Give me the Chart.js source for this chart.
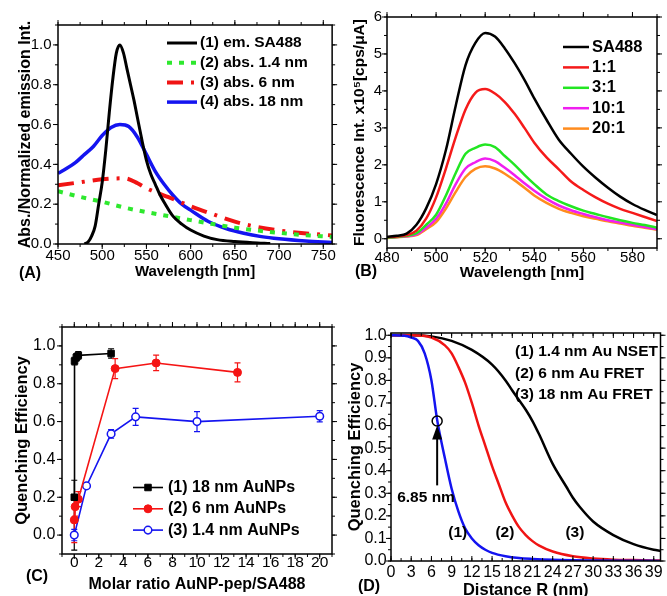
<!DOCTYPE html>
<html>
<head>
<meta charset="utf-8">
<script src="https://cdn.jsdelivr.net/npm/chart.js@4.4.1/dist/chart.umd.min.js"></script>
<style>
  html, body { margin: 0; padding: 0; background: #fff; overflow: hidden; }
  body { width: 667px; height: 596px; position: relative; }
  canvas { position: absolute; }
</style>
</head>
<body>
<canvas id="panelA" width="340" height="290" style="left:0px;top:0px"></canvas>
<canvas id="panelB" width="327" height="290" style="left:340px;top:0px"></canvas>
<canvas id="panelC" width="340" height="301" style="left:0px;top:295px"></canvas>
<canvas id="panelD" width="327" height="312" style="left:340px;top:295px"></canvas>
<script>
const FONT = '"Liberation Sans", Arial, sans-serif'

// (A) normalized emission / absorption
const waveEm = [480, 484, 488, 492, 496, 500, 504, 508, 512, 516, 520, 524, 528, 532, 536, 540, 545, 550, 555, 560, 565, 570, 580, 590, 600, 615, 630, 650, 670, 690]
const emSA488 = [0, 0.01, 0.04, 0.09, 0.2, 0.31, 0.47, 0.66, 0.83, 0.96, 1.0, 0.96, 0.88, 0.8, 0.72, 0.63, 0.52, 0.42, 0.35, 0.3, 0.25, 0.21, 0.14, 0.1, 0.07, 0.04, 0.022, 0.012, 0.006, 0.002]
const waveAbs14 = [450, 475, 500, 525, 550, 575, 600, 625, 650, 675, 700, 725, 760]
const abs14 = [0.265, 0.237, 0.212, 0.183, 0.16, 0.14, 0.12, 0.1, 0.082, 0.068, 0.056, 0.046, 0.036]
const waveAbs6 = [450, 475, 500, 525, 540, 550, 575, 600, 625, 650, 675, 700, 725, 760]
const abs6 = [0.295, 0.31, 0.325, 0.33, 0.305, 0.28, 0.235, 0.19, 0.15, 0.112, 0.086, 0.068, 0.055, 0.043]
const waveAbs18 = [450, 460, 470, 480, 490, 500, 510, 520, 530, 540, 550, 560, 570, 580, 590, 600, 620, 640, 660, 680, 700, 730, 760]
const abs18 = [0.355, 0.38, 0.41, 0.45, 0.49, 0.545, 0.585, 0.6, 0.59, 0.535, 0.45, 0.365, 0.3, 0.245, 0.2, 0.17, 0.113, 0.078, 0.054, 0.037, 0.026, 0.015, 0.008]
const ticksAx = [450, 500, 550, 600, 650, 700, 750]
const ticksAy = [0, 0.2, 0.4, 0.6, 0.8, 1.0]

// (B) fluorescence spectra, x10^5 cps/uA
const waveB = [480, 484, 488, 492, 496, 500, 504, 508, 512, 516, 520, 524, 528, 532, 536, 540, 545, 550, 555, 560, 565, 570, 575, 580, 585, 590]
const fluSA488 = [0.05, 0.08, 0.14, 0.38, 0.83, 1.48, 2.4, 3.6, 4.7, 5.3, 5.57, 5.47, 5.15, 4.75, 4.3, 3.8, 3.22, 2.68, 2.3, 1.95, 1.65, 1.38, 1.14, 0.94, 0.78, 0.64]
const flu1to1 = [0.04, 0.06, 0.1, 0.22, 0.55, 1.12, 1.9, 2.75, 3.5, 3.95, 4.05, 3.93, 3.7, 3.38, 3.0, 2.6, 2.2, 1.88, 1.55, 1.32, 1.12, 0.95, 0.81, 0.7, 0.59, 0.48]
const flu3to1 = [0.03, 0.05, 0.08, 0.15, 0.38, 0.65, 1.17, 1.78, 2.3, 2.46, 2.55, 2.48, 2.24, 2.0, 1.73, 1.48, 1.2, 1.02, 0.88, 0.76, 0.67, 0.58, 0.5, 0.43, 0.37, 0.3]
const flu10to1 = [0.03, 0.05, 0.07, 0.12, 0.3, 0.54, 0.95, 1.48, 1.9, 2.07, 2.17, 2.1, 1.92, 1.72, 1.5, 1.3, 1.08, 0.9, 0.77, 0.67, 0.58, 0.5, 0.44, 0.38, 0.32, 0.26]
const flu20to1 = [0.02, 0.04, 0.06, 0.1, 0.26, 0.45, 0.82, 1.27, 1.67, 1.89, 1.96, 1.9, 1.76, 1.58, 1.38, 1.17, 0.97, 0.81, 0.7, 0.61, 0.54, 0.47, 0.41, 0.35, 0.3, 0.24]
const ticksBx = [480, 500, 520, 540, 560, 580]
const ticksBy = [0, 1, 2, 3, 4, 5, 6]

// (C) quenching efficiency vs molar ratio
const ratio18 = [0, 0.02, 0.17, 0.33, 3]
const qe18 = [0.2, 0.92, 0.94, 0.95, 0.96]
const err18 = [[0.28, 0.09], 0.02, 0.02, 0.02, 0.025]
const ratio6 = [0, 0.07, 0.33, 3.33, 6.67, 13.3]
const qe6 = [0.08, 0.15, 0.19, 0.88, 0.91, 0.86]
const err6 = [0.12, 0.05, 0.04, 0.053, 0.041, 0.05]
const ratio14 = [0, 1, 3, 5, 10, 20]
const qe14 = [0, 0.26, 0.535, 0.625, 0.6, 0.628]
const err14 = [0.03, 0.01, 0.022, 0.045, 0.053, 0.03]
const ticksCx = [0, 2, 4, 6, 8, 10, 12, 14, 16, 18, 20]
const ticksCy = [0, 0.2, 0.4, 0.6, 0.8, 1.0]

// (D) quenching efficiency vs distance
const distBlue = [0, 2, 3, 4, 5, 6, 6.85, 8, 9, 10, 11, 12, 13, 14, 15, 17, 19, 21, 24, 27, 30, 35, 40]
const qBlue = [1, 0.998, 0.99, 0.975, 0.92, 0.8, 0.625, 0.455, 0.32, 0.22, 0.145, 0.1, 0.07, 0.05, 0.036, 0.021, 0.013, 0.009, 0.005, 0.003, 0.002, 0.001, 0.0005]
const distRed = [0, 3, 6, 8, 9, 10, 11, 12, 13, 14, 15, 16, 17, 18, 19, 20, 21, 22, 24, 27, 30, 33, 36, 40]
const qRed = [1, 1, 0.99, 0.955, 0.92, 0.86, 0.79, 0.7, 0.6, 0.51, 0.42, 0.34, 0.26, 0.2, 0.15, 0.115, 0.088, 0.068, 0.042, 0.021, 0.011, 0.006, 0.004, 0.002]
const distBlack = [0, 3, 6, 9, 12, 15, 17, 18, 20, 21, 22, 24, 26, 27, 28, 30, 33, 36, 39, 40]
const qBlack = [1, 1, 0.995, 0.975, 0.935, 0.87, 0.8, 0.755, 0.67, 0.62, 0.56, 0.43, 0.33, 0.28, 0.24, 0.175, 0.115, 0.075, 0.05, 0.045]
const markDist = [6.85]
const markQ = [0.62]
const ticksDx = [0, 3, 6, 9, 12, 15, 18, 21, 24, 27, 30, 33, 36, 39]
const ticksDy = [0, 0.1, 0.2, 0.3, 0.4, 0.5, 0.6, 0.7, 0.8, 0.9, 1.0]

const pts = (xs, ys) => xs.map((x, i) => ({ x, y: ys[i] }))

function steps(min, max, step) {
  const out = []
  for (let i = Math.ceil(min / step - 1e-9); i * step <= max + 1e-9; i++) out.push(i * step)
  return out
}

// box around the plot plus major/minor tick marks on all four sides
const frame = {
  id: 'frame',
  afterDraw(chart, args, o) {
    const { ctx, chartArea: a } = chart
    const sx = chart.scales.x, sy = chart.scales.y
    ctx.save()
    ctx.strokeStyle = '#000'
    ctx.lineWidth = 1
    ctx.beginPath()
    const xt = (vals, len) => vals.forEach(v => {
      const p = sx.getPixelForValue(v), d = o.xIn ? -len : len
      ctx.moveTo(p, a.bottom); ctx.lineTo(p, a.bottom + d)
      ctx.moveTo(p, a.top); ctx.lineTo(p, a.top - d)
    })
    const yt = (vals, len) => vals.forEach(v => {
      const p = sy.getPixelForValue(v), d = o.yIn ? -len : len
      ctx.moveTo(a.left, p); ctx.lineTo(a.left - d, p)
      ctx.moveTo(a.right, p); ctx.lineTo(a.right + d, p)
    })
    xt(sx.ticks.map(t => t.value), 5)
    yt(sy.ticks.map(t => t.value), 5)
    if (o.xMinor) xt(steps(sx.min, sx.max, o.xMinor), 3)
    if (o.yMinor) yt(steps(sy.min, sy.max, o.yMinor), 3)
    ctx.stroke()
    ctx.lineWidth = 1.5
    ctx.strokeRect(a.left, a.top, a.right - a.left, a.bottom - a.top)
    ctx.restore()
  }
}

function drawMark(ctx, ds, x, y) {
  const r = ds.pointRadius
  ctx.fillStyle = ds.pointBackgroundColor
  ctx.strokeStyle = ds.pointBorderColor
  ctx.lineWidth = ds.pointBorderWidth || 1
  ctx.beginPath()
  if (ds.pointStyle === 'rect') {
    const h = r * Math.SQRT1_2
    ctx.rect(x - h, y - h, 2 * h, 2 * h)
  } else {
    ctx.arc(x, y, r, 0, Math.PI * 2)
  }
  ctx.fill()
  ctx.stroke()
}

// legend drawn inside the plot, built from the datasets
const keyBox = {
  id: 'keyBox',
  afterDraw(chart, args, o) {
    if (o.x === undefined) return
    const ctx = chart.ctx
    ctx.save()
    ctx.font = `bold ${o.size}px ${FONT}`
    ctx.textBaseline = 'middle'
    ctx.textAlign = 'left'
    let row = 0
    chart.data.datasets.forEach(ds => {
      if (!ds.label) return
      const y = o.y + row * o.dy
      row++
      if (o.len) {
        ctx.strokeStyle = ds.borderColor
        ctx.lineWidth = ds.borderWidth
        ctx.setLineDash(ds.borderDash || [])
        ctx.beginPath(); ctx.moveTo(o.x, y); ctx.lineTo(o.x + o.len, y); ctx.stroke()
        ctx.setLineDash([])
        if (ds.pointRadius) drawMark(ctx, ds, o.x + o.len / 2, y)
      }
      ctx.fillStyle = '#000'
      ctx.fillText(ds.label, o.x + o.len + o.gap, y)
    })
    ctx.restore()
  }
}

const errBars = {
  id: 'errBars',
  beforeDatasetsDraw(chart) {
    const ctx = chart.ctx, sx = chart.scales.x, sy = chart.scales.y
    chart.data.datasets.forEach(ds => {
      if (!ds.err) return
      ctx.save()
      ctx.strokeStyle = ds.borderColor
      ctx.lineWidth = 1.2
      ctx.beginPath()
      ds.data.forEach((p, i) => {
        const e = ds.err[i]
        const lo = Array.isArray(e) ? e[0] : e, hi = Array.isArray(e) ? e[1] : e
        const x = sx.getPixelForValue(p.x)
        const y1 = sy.getPixelForValue(p.y - lo), y2 = sy.getPixelForValue(p.y + hi)
        ctx.moveTo(x, y1); ctx.lineTo(x, y2)
        ctx.moveTo(x - 3, y1); ctx.lineTo(x + 3, y1)
        ctx.moveTo(x - 3, y2); ctx.lineTo(x + 3, y2)
      })
      ctx.stroke()
      ctx.restore()
    })
  }
}

const notes = {
  id: 'notes',
  afterDraw(chart, args, o) {
    const ctx = chart.ctx, sx = chart.scales.x, sy = chart.scales.y
    ctx.save()
    ctx.fillStyle = '#000'
    ctx.strokeStyle = '#000'
    ctx.textBaseline = 'middle'
    ;(o.items || []).forEach(n => {
      ctx.font = `bold ${n.size || 16}px ${FONT}`
      ctx.textAlign = n.align || 'center'
      const px = n.data ? sx.getPixelForValue(n.x) : n.x
      const py = n.data ? sy.getPixelForValue(n.y) : n.y
      ctx.fillText(n.text, px, py)
    })
    if (o.arrow) {
      const px = sx.getPixelForValue(o.arrow.x)
      const y0 = sy.getPixelForValue(o.arrow.from), y1 = sy.getPixelForValue(o.arrow.to)
      ctx.lineWidth = 2
      ctx.beginPath(); ctx.moveTo(px, y0); ctx.lineTo(px, y1 + 10); ctx.stroke()
      ctx.beginPath(); ctx.moveTo(px, y1); ctx.lineTo(px - 5, y1 + 14); ctx.lineTo(px + 5, y1 + 14); ctx.closePath(); ctx.fill()
    }
    ctx.restore()
  }
}

function axis(o) {
  return {
    type: 'linear',
    min: o.min,
    max: o.max,
    afterBuildTicks: s => { s.ticks = o.ticks.map(v => ({ value: v })) },
    afterFit: s => { if (s.isHorizontal()) s.height = o.size; else s.width = o.size },
    border: { display: false },
    grid: { display: false, drawTicks: false },
    ticks: {
      color: '#000', autoSkip: false, maxRotation: 0, padding: o.pad,
      font: { family: FONT, size: o.fs, lineHeight: 1 },
      callback: v => o.dec ? v.toFixed(o.dec) : String(v)
    },
    title: {
      display: true, text: o.title, color: '#000',
      padding: { top: o.tpad, bottom: o.tpad },
      font: { family: FONT, size: o.tfs, weight: 'bold', lineHeight: 1.2 }
    }
  }
}

function options(pad, x, y, plugins) {
  return {
    responsive: false,
    animation: false,
    devicePixelRatio: 1,
    layout: { padding: Object.assign({ left: 0, right: 0, top: 0, bottom: 0 }, pad) },
    elements: { point: { radius: 0 }, line: { cubicInterpolationMode: 'monotone' } },
    scales: { x, y },
    plugins: Object.assign({ legend: { display: false }, tooltip: { enabled: false } }, plugins)
  }
}

new Chart(document.getElementById('panelA'), {
  type: 'line',
  data: {
    datasets: [
      { label: '(1) em. SA488', data: pts(waveEm, emSA488), borderColor: '#000000', borderWidth: 3 },
      { label: '(2) abs. 1.4 nm', data: pts(waveAbs14, abs14), borderColor: '#2ee82e', borderWidth: 4, borderDash: [5, 7] },
      { label: '(3) abs. 6 nm', data: pts(waveAbs6, abs6), borderColor: '#f01414', borderWidth: 4, borderDash: [16, 8, 3, 8] },
      { label: '(4) abs. 18 nm', data: pts(waveAbs18, abs18), borderColor: '#1414f0', borderWidth: 3.5 }
    ]
  },
  options: options(
    { top: 25, right: 6 },
    axis({ min: 450, max: 760, ticks: ticksAx, size: 46, pad: 4, fs: 15, title: 'Wavelength [nm]', tfs: 15, tpad: 9.5 }),
    axis({ min: 0, max: 1.1, ticks: ticksAy, dec: 1, size: 58, pad: 6.5, fs: 15, title: 'Abs./Normalized emission Int.', tfs: 16, tpad: 16 }),
    {
      frame: { xMinor: 25, yMinor: 0.1 },
      keyBox: { x: 167, y: 43, dy: 19.7, len: 30, gap: 3, size: 15.5 },
      notes: { items: [{ text: '(A)', x: 30, y: 274, size: 16 }] }
    }
  ),
  plugins: [frame, keyBox, notes]
})

new Chart(document.getElementById('panelB'), {
  type: 'line',
  data: {
    datasets: [
      { label: 'SA488', data: pts(waveB, fluSA488), borderColor: '#000000', borderWidth: 2.5 },
      { label: '1:1', data: pts(waveB, flu1to1), borderColor: '#f51a1a', borderWidth: 2.5 },
      { label: '3:1', data: pts(waveB, flu3to1), borderColor: '#22e622', borderWidth: 2.5 },
      { label: '10:1', data: pts(waveB, flu10to1), borderColor: '#f01ef0', borderWidth: 2.5 },
      { label: '20:1', data: pts(waveB, flu20to1), borderColor: '#ff8c1e', borderWidth: 2.5 }
    ]
  },
  options: options(
    { top: 17, right: 10 },
    axis({ min: 480, max: 590, ticks: ticksBx, size: 42, pad: 2.3, fs: 15, title: 'Wavelength [nm]', tfs: 15.5, tpad: 8 }),
    axis({ min: -0.25, max: 6, ticks: ticksBy, size: 47, pad: 5, fs: 15, title: 'Fluorescence Int. x10\u2075[cps/\u03bcA]', tfs: 15.5, tpad: 10 }),
    {
      frame: { xMinor: 10, yMinor: 0.5 },
      keyBox: { x: 223, y: 47, dy: 20.4, len: 26, gap: 3, size: 16.5 },
      notes: { items: [{ text: '(B)', x: 26, y: 272, size: 16 }] }
    }
  ),
  plugins: [frame, keyBox, notes]
})

const pointLine = { tension: 0, cubicInterpolationMode: 'default', borderWidth: 1.6 }

new Chart(document.getElementById('panelC'), {
  type: 'line',
  data: {
    datasets: [
      Object.assign({ label: '(1) 18 nm AuNPs', data: pts(ratio18, qe18), err: err18, borderColor: '#000000',
        pointStyle: 'rect', pointRadius: 4.6, pointBackgroundColor: '#000000', pointBorderColor: '#000000', pointBorderWidth: 1 }, pointLine),
      Object.assign({ label: '(2) 6 nm AuNPs', data: pts(ratio6, qe6), err: err6, borderColor: '#f51414',
        pointStyle: 'circle', pointRadius: 4, pointBackgroundColor: '#f51414', pointBorderColor: '#f51414', pointBorderWidth: 1 }, pointLine),
      Object.assign({ label: '(3) 1.4 nm AuNPs', data: pts(ratio14, qe14), err: err14, borderColor: '#1414f0',
        pointStyle: 'circle', pointRadius: 3.8, pointBackgroundColor: '#ffffff', pointBorderColor: '#1414f0', pointBorderWidth: 1.5 }, pointLine)
    ]
  },
  options: options(
    { top: 32, right: 8 },
    axis({ min: -1, max: 21, ticks: ticksCx, size: 42, pad: 0.5, fs: 15.5, title: 'Molar ratio AuNP-pep/SA488', tfs: 16, tpad: 2 }),
    axis({ min: -0.1, max: 1.1, ticks: ticksCy, dec: 1, size: 62, pad: 6.7, fs: 16, title: 'Quenching Efficiency', tfs: 16.5, tpad: 13 }),
    {
      frame: { xMinor: 1, yMinor: 0.1 },
      keyBox: { x: 133, y: 192.5, dy: 21.3, len: 30, gap: 5, size: 16 },
      notes: { items: [{ text: '(C)', x: 37, y: 282, size: 16 }] }
    }
  ),
  plugins: [errBars, frame, keyBox, notes]
})

new Chart(document.getElementById('panelD'), {
  type: 'line',
  data: {
    datasets: [
      { label: '(1) 1.4 nm Au NSET', data: pts(distBlue, qBlue), borderColor: '#1414f0', borderWidth: 2.5 },
      { label: '(2) 6 nm Au FRET', data: pts(distRed, qRed), borderColor: '#f01414', borderWidth: 2.5 },
      { label: '(3) 18 nm Au FRET', data: pts(distBlack, qBlack), borderColor: '#000000', borderWidth: 2.5 },
      { data: pts(markDist, markQ), showLine: false, pointRadius: 5, pointBorderColor: '#000000',
        pointBackgroundColor: 'rgba(0,0,0,0)', pointBorderWidth: 1.5, order: -1 }
    ]
  },
  options: options(
    { top: 38, right: 0 },
    axis({ min: 0, max: 40, ticks: ticksDx, size: 46, pad: 3.8, fs: 16, title: 'Distance R (nm)', tfs: 16.5, tpad: 6.4 }),
    axis({ min: 0, max: 1.01, ticks: ticksDy, dec: 1, size: 51, pad: 4.3, fs: 16, title: 'Quenching Efficiency', tfs: 16.5, tpad: 6 }),
    {
      frame: { xMinor: 1.5, yMinor: 0.05, xIn: true },
      keyBox: { x: 175, y: 57, dy: 21.5, len: 0, gap: 0, size: 15.5 },
      notes: {
        items: [
          { text: '(D)', x: 29, y: 292, size: 16 },
          { text: '6.85 nm', x: 5.2, y: 0.28, data: true, size: 15.5 },
          { text: '(1)', x: 9.9, y: 0.127, data: true, size: 15.5 },
          { text: '(2)', x: 16.9, y: 0.127, data: true, size: 15.5 },
          { text: '(3)', x: 27.3, y: 0.127, data: true, size: 15.5 }
        ],
        arrow: { x: 6.85, from: 0.335, to: 0.6 }
      }
    }
  ),
  plugins: [frame, keyBox, notes]
})
</script>
</body>
</html>
